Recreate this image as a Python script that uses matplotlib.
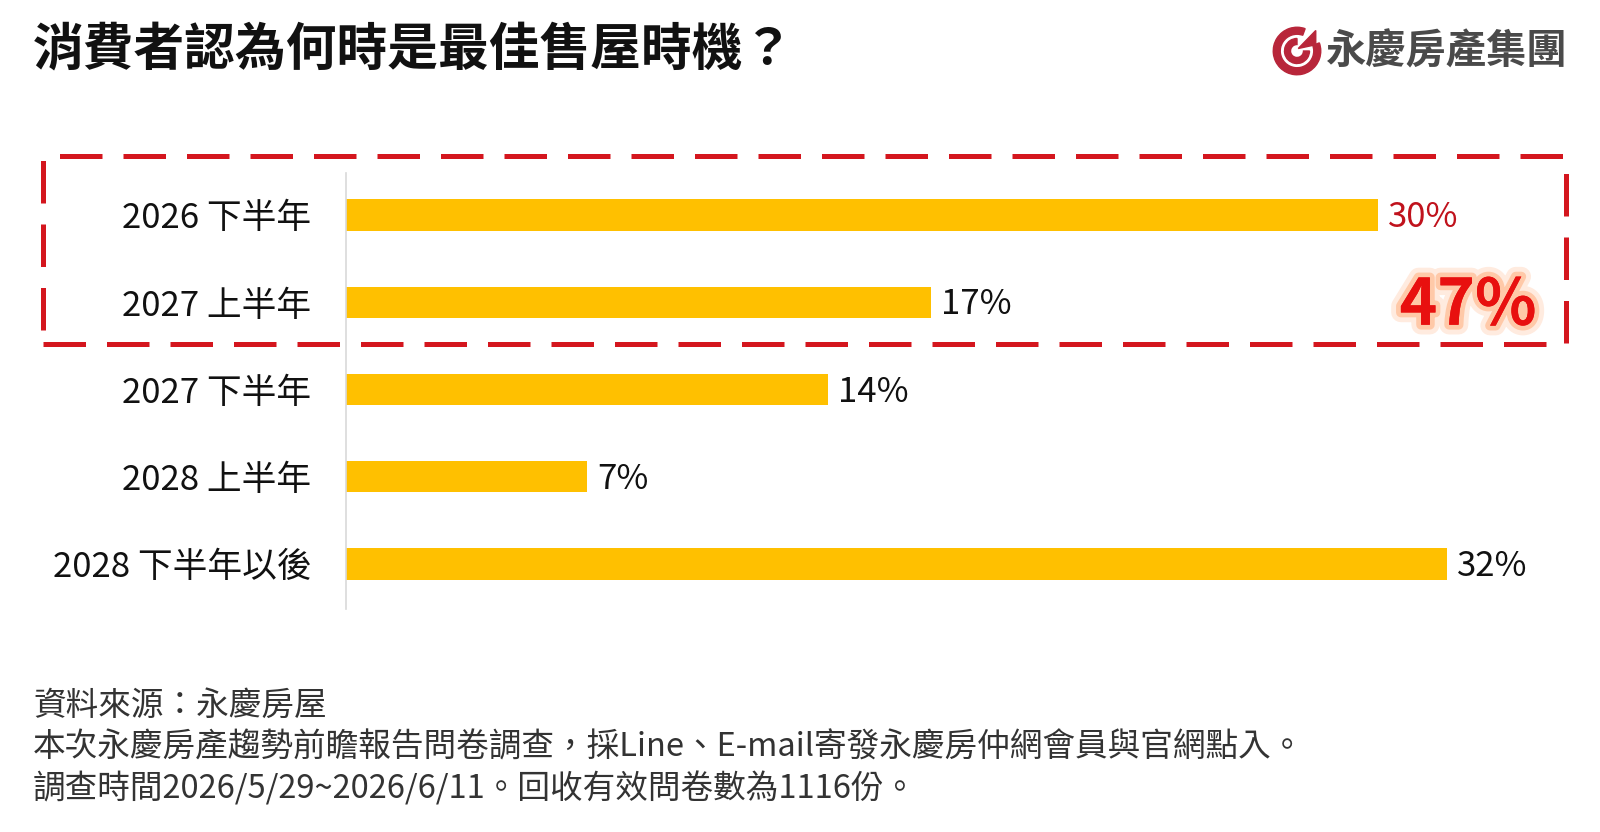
import matplotlib
matplotlib.use("Agg")
import matplotlib.pyplot as plt
import matplotlib.patheffects as pe
from matplotlib.patches import Rectangle, Wedge, Polygon

FONT = ["Noto Sans CJK TC", "DejaVu Sans"]
plt.rcParams["font.family"] = FONT

# data
categories = ["2026 下半年", "2027 上半年", "2027 下半年", "2028 上半年", "2028 下半年以後"]
shares = [30, 17, 14, 7, 32]
label_colors = ["#C0121C", "#111111", "#111111", "#111111", "#111111"]
title = "消費者認為何時是最佳售屋時機？"
highlight = "47%"
notes = [
    "資料來源：永慶房屋",
    "本次永慶房產趨勢前瞻報告問卷調查，採Line、E-mail寄發永慶房仲網會員與官網點入。",
    "調查時間2026/5/29~2026/6/11。回收有效問卷數為1116份。",
]
brand = "永慶房產集團"

W, H = 1600, 832
fig = plt.figure(figsize=(W / 100, H / 100), dpi=100)
fig.patch.set_facecolor("white")

# bar axes (pixel-based placement)
ax_l, ax_r, ax_t, ax_b = 346, 1566, 173, 609
ax = fig.add_axes([ax_l / W, 1 - ax_b / H, (ax_r - ax_l) / W, (ax_b - ax_t) / H])
ypos = list(range(len(categories)))
ax.barh(ypos, shares, height=0.36, color="#FFC000", zorder=2)
ax.set_xlim(0, (ax_r - ax_l) / 34.4)
ax.set_ylim(4.516, -0.481)
ax.set_yticks(ypos)
ax.set_yticklabels(categories, fontsize=25, color="#111111")
ax.tick_params(axis="y", length=0, pad=25)
ax.set_xticks([])
for s in ["top", "right", "bottom"]:
    ax.spines[s].set_visible(False)
ax.spines["left"].set_color("#d9d9d9")
ax.spines["left"].set_linewidth(1.2)
ax.set_facecolor("none")

for y, v, c in zip(ypos, shares, label_colors):
    ax.text(v + 0.3, y + 0.03, f"{v}%", va="center", ha="left", fontsize=25, color=c)

# highlight box
box = Rectangle((43 / W, 1 - 344 / H), (1566 - 43) / W, (344 - 156) / H,
                transform=fig.transFigure, fill=False, edgecolor="#D4161E",
                linewidth=3.6, linestyle=(0, (8.5, 4.2)), zorder=5)
fig.patches.append(box)

fig.text(1468 / W, 1 - 306 / H, highlight, ha="center", va="center",
         fontsize=46, fontweight="bold", color="#E8100F",
         path_effects=[pe.withStroke(linewidth=14, foreground="#FFEBDF"),
                       pe.withStroke(linewidth=7, foreground="#FFC9A8"),
                       pe.Normal()])

# title
fig.text(33 / W, 1 - 50 / H, title, ha="left", va="center",
         fontsize=36.5, fontweight="bold", color="#111111")

# footer
for i, line in enumerate(notes):
    fig.text(33 / W, 1 - (706 + 41 * i) / H, line, ha="left", va="center",
             fontsize=23.5, color="#333333")

# logo
fig.text(1326 / W, 1 - 52 / H, brand, ha="left", va="center",
         fontsize=29, fontweight="bold", color="#4A4A4A")
lax = fig.add_axes([1272 / W, 1 - 76 / H, 50 / W, 50 / H])
lax.set_xlim(-1, 1)
lax.set_ylim(-1, 1)
lax.axis("off")
red = "#B8263A"
lax.add_patch(Wedge((0, 0), 0.95, 70, 20, width=0.28, color=red))
lax.add_patch(Wedge((0, 0), 0.5, 90, 0, width=0.24, color=red))
lax.add_patch(Polygon([[0.05, 0.1], [0.75, 0.82], [0.75, 0.25]], color=red))

fig.savefig("out.png", dpi=100, facecolor="white")
